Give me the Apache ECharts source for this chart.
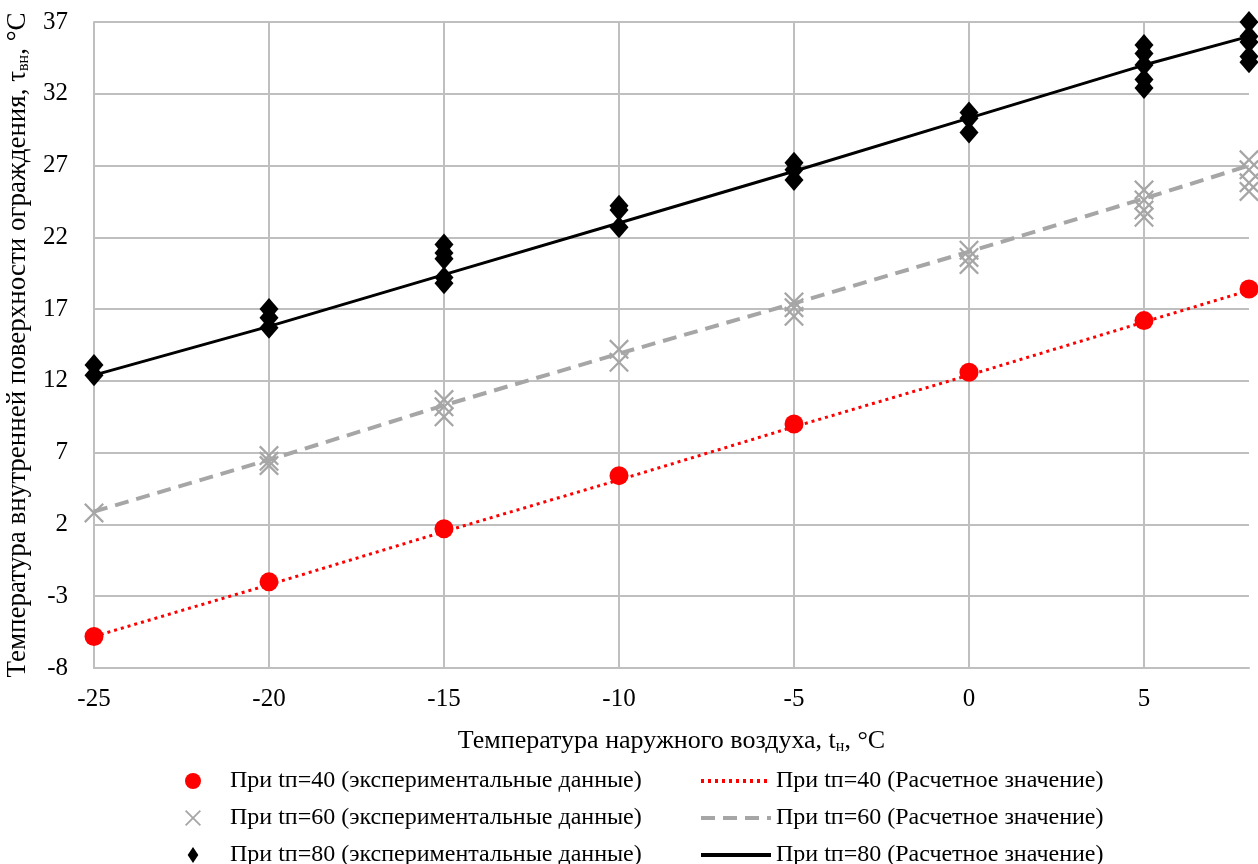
<!DOCTYPE html>
<html>
<head>
<meta charset="utf-8">
<script src="https://cdn.jsdelivr.net/npm/echarts@6/dist/echarts.min.js"></script>
<style>
html,body{margin:0;padding:0;background:#fff;}
#chart{width:1258px;height:864px;}
</style>
</head>
<body>
<div id="chart"></div>
<script>
// Outdoor temperatures (x)
const xValues = [-25, -20, -15, -10, -5, 0, 5, 8];

// Experimental data (several measurements per x)
const exp40 = [[-5.8], [-2.0], [1.7], [5.4], [9.0], [12.6], [16.2], [18.4]];
const exp60 = [[2.8], [6.8, 6.4, 6.1], [10.7, 10.2, 9.5], [14.2, 13.3], [17.5, 17.1, 16.5], [21.1, 20.6, 20.1], [25.3, 24.6, 23.9, 23.4], [27.4, 26.7, 25.8, 25.2]];
const exp80 = [[13.1, 12.4], [17.0, 16.4, 15.7], [21.5, 20.9, 20.5, 19.2, 18.8], [24.2, 23.9, 22.7], [27.2, 26.7, 26.0], [30.7, 30.3, 29.3], [35.4, 34.8, 34.0, 33.0, 32.4], [37.0, 36.0, 35.6, 34.6, 34.2]];

// Calculated values
const calc40 = [-5.8, -2.2, 1.5, 5.1, 8.8, 12.4, 16.1, 18.3];
const calc60 = [2.9, 6.5, 10.3, 13.9, 17.4, 21.0, 24.7, 27.0];
const calc80 = [12.4, 15.8, 19.4, 23.0, 26.6, 30.3, 34.0, 36.0];

const seriesNames = [
  'При tп=40 (экспериментальные данные)',
  'При tп=60 (экспериментальные данные)',
  'При tп=80 (экспериментальные данные)',
  'При tп=40 (Расчетное значение)',
  'При tп=60 (Расчетное значение)',
  'При tп=80 (Расчетное значение)'
];

function pairsMulti(arr) {
  const out = [];
  arr.forEach((vals, i) => vals.forEach(v => out.push([xValues[i], v])));
  return out;
}
function pairs(arr) { return arr.map((v, i) => [xValues[i], v]); }

const FONT = 'Liberation Serif';
const crossPath = 'path://M0,8 L8,0 L50,42 L92,0 L100,8 L58,50 L100,92 L92,100 L50,58 L8,100 L0,92 L42,50 Z';

const chart = echarts.init(document.getElementById('chart'), null, {renderer: 'canvas'});
chart.setOption({
  animation: false,
  backgroundColor: '#ffffff',
  textStyle: {fontFamily: FONT, color: '#000'},
  grid: {left: 94, right: 9, top: 22, bottom: 196, containLabel: false, outerBoundsMode: 'none'},
  xAxis: {
    type: 'value', min: -25, max: 8, interval: 5,
    axisLine: {show: true, onZero: false, lineStyle: {color: '#bfbfbf', width: 2}},
    axisTick: {show: false},
    splitLine: {show: true, showMaxLine: false, lineStyle: {color: '#bfbfbf', width: 2}},
    axisLabel: {fontFamily: FONT, fontSize: 25, color: '#000', margin: 19, showMaxLabel: false,
      formatter: v => (v === 8 ? '' : String(v))},
    name: 'Температура наружного воздуха, t{sub|н}, °C',
    nameLocation: 'middle', nameGap: 59,
    nameTextStyle: {fontFamily: FONT, fontSize: 26, color: '#000',
      rich: {sub: {fontFamily: FONT, fontSize: 16, color: '#000', verticalAlign: 'bottom', padding: [12, 0, 0, 0]}}}
  },
  yAxis: {
    type: 'value', min: -8, max: 37, interval: 5,
    axisLine: {show: true, onZero: false, lineStyle: {color: '#bfbfbf', width: 2}},
    axisTick: {show: false},
    splitLine: {show: true, lineStyle: {color: '#bfbfbf', width: 2}},
    axisLabel: {fontFamily: FONT, fontSize: 25, color: '#000', margin: 26},
    name: 'Температура внутренней поверхности ограждения, τ{sub|вн}, °C',
    nameLocation: 'middle', nameGap: 54,
    nameTextStyle: {fontFamily: FONT, fontSize: 27, color: '#000',
      rich: {sub: {fontFamily: FONT, fontSize: 16, color: '#000', verticalAlign: 'bottom', padding: [12, 0, 0, 0]}}}
  },
  legend: [
    {
      orient: 'vertical', left: 180, top: 764, height: 150, itemGap: 13,
      itemWidth: 16, itemHeight: 16,
      textStyle: {fontFamily: FONT, fontSize: 24, lineHeight: 24, color: '#000', padding: [0, 0, 0, 24]},
      data: [seriesNames[0], seriesNames[1], {name: seriesNames[2], icon: 'path://M6,0 L12,9 L6,18 L0,9 Z'}]
    },
    {
      orient: 'vertical', left: 694, top: 764, height: 150, itemGap: 13,
      itemWidth: 70, itemHeight: 16,
      itemStyle: {opacity: 0},
      lineStyle: {width: 4},
      textStyle: {fontFamily: FONT, fontSize: 24, lineHeight: 24, color: '#000'},
      data: [seriesNames[3], seriesNames[4], seriesNames[5]]
    }
  ],
  series: [
    {name: seriesNames[0], type: 'scatter', symbol: 'circle', symbolSize: 19,
      itemStyle: {color: '#ff0000', opacity: 1}, data: pairsMulti(exp40), z: 3},
    {name: seriesNames[1], type: 'scatter', symbol: crossPath, symbolSize: 20,
      itemStyle: {color: '#a6a6a6', opacity: 1}, data: pairsMulti(exp60), z: 3},
    {name: seriesNames[2], type: 'scatter', symbol: 'diamond', symbolSize: [19, 22],
      itemStyle: {color: '#000000', opacity: 1}, data: pairsMulti(exp80), z: 3},
    {name: seriesNames[3], type: 'line', symbol: 'none', showSymbol: false,
      lineStyle: {color: '#ff0000', width: 3, type: [3, 4]}, itemStyle: {color: '#ff0000'},
      data: pairs(calc40), z: 4},
    {name: seriesNames[4], type: 'line', symbol: 'none', showSymbol: false,
      lineStyle: {color: '#a6a6a6', width: 4, type: [14, 8]}, itemStyle: {color: '#a6a6a6'},
      data: pairs(calc60), z: 4},
    {name: seriesNames[5], type: 'line', symbol: 'none', showSymbol: false,
      lineStyle: {color: '#000000', width: 3}, itemStyle: {color: '#000000'},
      data: pairs(calc80), z: 4}
  ]
});
</script>
</body>
</html>
